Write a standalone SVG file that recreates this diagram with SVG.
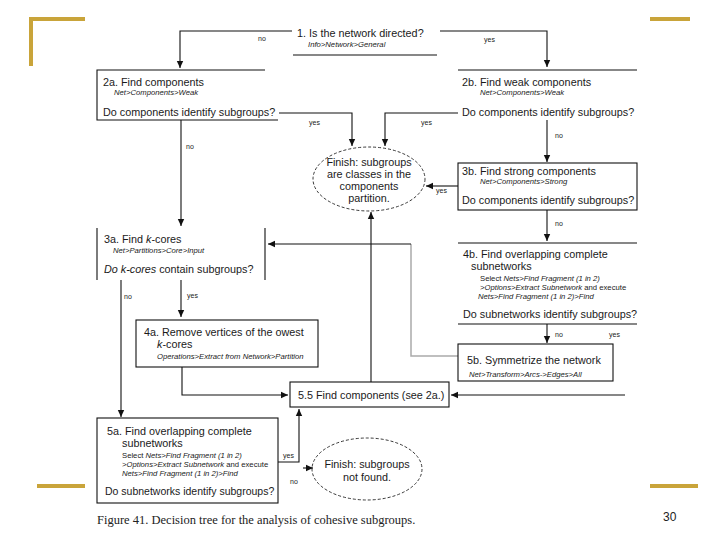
<svg xmlns="http://www.w3.org/2000/svg" width="720" height="540" viewBox="0 0 720 540">
<defs>
<marker id="ah" markerUnits="userSpaceOnUse" markerWidth="8" markerHeight="8" refX="7" refY="4" orient="auto">
<path d="M0,0.8 L7,4 L0,7.2 z" fill="#111"/>
</marker>
</defs>
<style>
.t{font-family:"Liberation Sans",Arial,sans-serif;font-size:10.8px;fill:#1a1a1a}
.s{font-family:"Liberation Sans",Arial,sans-serif;font-size:7.7px;fill:#1a1a1a;font-style:italic}
.n{font-family:"Liberation Sans",Arial,sans-serif;font-size:7.7px;fill:#1a1a1a;font-style:normal}
.l{font-family:"Liberation Sans",Arial,sans-serif;font-size:7px;fill:#222}
.i{font-style:italic}
.box{fill:none;stroke:#111;stroke-width:1.1}
.ell{fill:none;stroke:#222;stroke-width:0.9;stroke-dasharray:3 2}
.c{fill:none;stroke:#111;stroke-width:1.1}
.cg{fill:none;stroke:#aaa;stroke-width:1.5}
.gold{fill:#C9A43A}
.cap{font-family:"Liberation Serif","Times New Roman",serif;font-size:12.5px;fill:#222}
</style>
<rect width="720" height="540" fill="#fff"/>
<g id="decor">
<rect class="gold" x="29" y="17" width="56" height="4"/>
<rect class="gold" x="29" y="17" width="4" height="49"/>
<rect class="gold" x="650" y="17" width="40" height="4"/>
<rect class="gold" x="37" y="484" width="48" height="4"/>
<rect class="gold" x="650" y="484" width="48" height="4"/>
</g>
<g id="connectors">
<path class="c" d="M292,31 H180 V68" marker-end="url(#ah)"/>
<path class="c" d="M440,31 H547 V67" marker-end="url(#ah)"/>
<path class="c" d="M279,113 H352 V146" marker-end="url(#ah)"/>
<path class="c" d="M458,113 H385 V146" marker-end="url(#ah)"/>
<path class="c" d="M547,120 V162" marker-end="url(#ah)"/>
<path class="c" d="M458,186 H426" marker-end="url(#ah)"/>
<path class="c" d="M181,120 V226" marker-end="url(#ah)"/>
<path class="c" d="M547,210 V241" marker-end="url(#ah)"/>
<path class="c" d="M547,324 V343" marker-end="url(#ah)"/>
<path class="c" d="M181,280 V317" marker-end="url(#ah)"/>
<path class="c" d="M121,280 V417" marker-end="url(#ah)"/>
<path class="c" d="M182,367 V395 H288" marker-end="url(#ah)"/>
<path class="c" d="M371,382 V212" marker-end="url(#ah)"/>
<path class="cg" d="M458,356 H411 V244"/>
<path class="c" d="M411,244 H268" marker-end="url(#ah)"/>
<path class="c" d="M625,395 H451" marker-end="url(#ah)"/>
<path class="c" d="M278,462 H299 V409" marker-end="url(#ah)"/>
<path class="c" d="M303,468 H313" marker-end="url(#ah)"/>
<text class="l" x="258" y="41">no</text>
<text class="l" x="484" y="42">yes</text>
<text class="l" x="309" y="125">yes</text>
<text class="l" x="421" y="125">yes</text>
<text class="l" x="186" y="149">no</text>
<text class="l" x="555" y="138">no</text>
<text class="l" x="436" y="193">yes</text>
<text class="l" x="555" y="226">no</text>
<text class="l" x="124" y="299">no</text>
<text class="l" x="187" y="298">yes</text>
<text class="l" x="555" y="337">no</text>
<text class="l" x="609" y="337">yes</text>
<text class="l" x="283" y="458">yes</text>
<text class="l" x="290" y="484">no</text>
</g>
<g id="n1">
<path class="box" d="M293,55 H437"/>
<text class="t" x="297" y="37">1. Is the network directed?</text>
<text class="s" x="308" y="47">Info&gt;Network&gt;General</text>
</g>
<g id="n2a">
<path class="box" d="M265,70 H97 V120 H278"/>
<text class="t" x="103" y="86">2a. Find components</text>
<text class="s" x="114" y="95">Net&gt;Components&gt;Weak</text>
<text class="t" x="103" y="116">Do components identify subgroups?</text>
</g>
<g id="n2b">
<path class="box" d="M458,70 H637"/>
<text class="t" x="462" y="86">2b. Find weak components</text>
<text class="s" x="480" y="95">Net&gt;Components&gt;Weak</text>
<text class="t" x="462" y="116">Do components  identify subgroups?</text>
</g>
<g id="finish1">
<ellipse class="ell" cx="369" cy="179" rx="56" ry="32"/>
<text class="t" text-anchor="middle" x="369" y="166">Finish: subgroups</text>
<text class="t" text-anchor="middle" x="369" y="178">are classes in the</text>
<text class="t" text-anchor="middle" x="369" y="190">components</text>
<text class="t" text-anchor="middle" x="369" y="202">partition.</text>
</g>
<g id="n3b">
<rect class="box" x="458" y="163" width="179" height="47"/>
<text class="t" x="462" y="175">3b. Find strong components</text>
<text class="s" x="480" y="184">Net&gt;Components&gt;Strong</text>
<text class="t" x="462" y="204">Do components  identify subgroups?</text>
</g>
<g id="n3a">
<path class="box" d="M97,228 V280 M265,228 V280"/>
<text class="t" x="104" y="243">3a. Find <tspan class="i">k</tspan>-cores</text>
<text class="s" x="113" y="253">Net&gt;Partitions&gt;Core&gt;Input</text>
<text class="t" x="104" y="273"><tspan class="i">Do k-cores</tspan> contain subgroups?</text>
</g>
<g id="n4b">
<path class="box" d="M458,243 H637 M458,324 H637"/>
<text class="t" x="463" y="258">4b. Find overlapping complete</text>
<text class="t" x="471" y="270">subnetworks</text>
<text class="n" x="480" y="281">Select <tspan class="i">Nets&gt;Find Fragment (1 in 2)</tspan></text>
<text class="n" x="480" y="290"><tspan class="i">&gt;Options&gt;Extract Subnetwork</tspan> and execute</text>
<text class="s" x="478" y="299">Nets&gt;Find Fragment (1 in 2)&gt;Find</text>
<text class="t" x="463" y="318">Do subnetworks identify subgroups?</text>
</g>
<g id="n4a">
<rect class="box" x="136" y="320" width="182" height="47"/>
<text class="t" x="144" y="336">4a. Remove vertices of the  owest</text>
<text class="t" x="157" y="348"><tspan class="i">k</tspan>-cores</text>
<text class="s" x="157" y="359">Operations&gt;Extract from Network&gt;Partition</text>
</g>
<g id="n5b">
<rect class="box" x="458" y="344" width="155" height="37"/>
<text class="t" x="467" y="364">5b. Symmetrize the network</text>
<text class="s" x="469" y="377">Net&gt;Transform&gt;Arcs-&gt;Edges&gt;All</text>
</g>
<g id="n55">
<rect class="box" x="290" y="382" width="159" height="25"/>
<text class="t" x="298" y="399">5.5 Find components (see 2a.)</text>
</g>
<g id="n5a">
<rect class="box" x="97" y="418" width="181" height="85"/>
<text class="t" x="107" y="435">5a. Find overlapping complete</text>
<text class="t" x="122" y="447">subnetworks</text>
<text class="n" x="122" y="458">Select <tspan class="i">Nets&gt;Find Fragment (1 in 2)</tspan></text>
<text class="n" x="122" y="467"><tspan class="i">&gt;Options&gt;Extract Subnetwork</tspan> and execute</text>
<text class="s" x="122" y="476">Nets&gt;Find Fragment (1 in 2)&gt;Find</text>
<text class="t" style="font-size:10.5px" x="105" y="495">Do subnetworks identify subgroups?</text>
</g>
<g id="finish2">
<ellipse class="ell" cx="367" cy="469" rx="55" ry="31"/>
<text class="t" text-anchor="middle" x="367" y="468">Finish: subgroups</text>
<text class="t" text-anchor="middle" x="367" y="481">not found.</text>
</g>
<g id="caption">
<text class="cap" x="97" y="524">Figure 41. Decision tree for the analysis of cohesive subgroups.</text>
<text class="l" style="font-size:12px" x="663" y="521">30</text>
</g>
</svg>
